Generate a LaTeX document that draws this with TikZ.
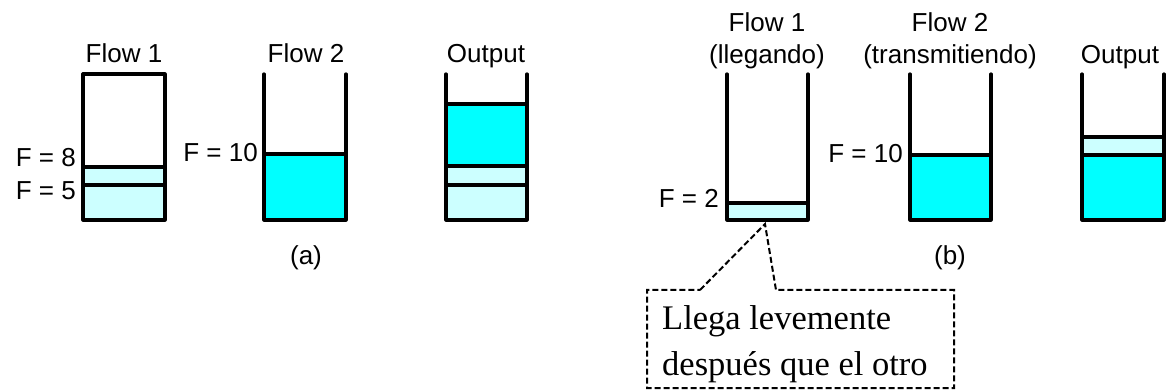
\documentclass[tikz,border=0pt]{standalone}
\usepackage{fontspec}
\setmainfont{Liberation Serif}
\newfontfamily\labelfont{Liberation Sans}
\usepackage{tikz}
\definecolor{fast_fill}{RGB}{0,255,255}
\definecolor{slow_fill}{RGB}{204,255,255}
\tikzstyle{buffer_wall} = [line width=3.2pt, line cap=round, line join=round]
\tikzstyle{level_line} = [line width=3.4pt]
\tikzstyle{label_sans} = [inner sep=0pt, anchor=base, font=\labelfont\fontsize{26}{30}\selectfont]
\tikzstyle{label_level} = [inner sep=0pt, anchor=base east, font=\labelfont\fontsize{26}{30}\selectfont]
\tikzstyle{label_callout} = [inner sep=0pt, anchor=base west, font=\fontsize{34.5}{40}\selectfont]
\tikzstyle{callout_line} = [line width=2pt, dash pattern=on 6pt off 3pt]

\begin{document}
\begin{tikzpicture}[x=1pt,y=-1pt]
\useasboundingbox (0,0) rectangle (1168,390);
\def\ytop{74}
\def\ybot{220}

% (a)
\fill[slow_fill] (83,167) rectangle (165,\ybot);
\draw[level_line] (83,167) -- (165,167);
\draw[level_line] (83,185) -- (165,185);
\draw[buffer_wall] (83,\ytop) rectangle (165,\ybot);

\fill[fast_fill] (264,154) rectangle (346,\ybot);
\draw[level_line] (264,154) -- (346,154);
\draw[buffer_wall] (264,\ytop) -- (264,\ybot) -- (346,\ybot) -- (346,\ytop);

\fill[fast_fill] (446,104) rectangle (527,166);
\fill[slow_fill] (446,166) rectangle (527,\ybot);
\draw[level_line] (446,104) -- (527,104);
\draw[level_line] (446,166) -- (527,166);
\draw[level_line] (446,185) -- (527,185);
\draw[buffer_wall] (446,\ytop) -- (446,\ybot) -- (527,\ybot) -- (527,\ytop);

\node (a_flow1) at (124,63) [label_sans] {Flow 1};
\node (a_flow2) at (306,63) [label_sans] {Flow 2};
\node (a_out) at (486,63) [label_sans] {Output};
\node (a_f8) at (76,167) [label_level] {F = 8};
\node (a_f5) at (76,200) [label_level] {F = 5};
\node (a_f10) at (258,162) [label_level] {F = 10};
\node (a_cap) at (306,265) [label_sans] {(a)};

% (b)
\fill[slow_fill] (727,203) rectangle (808,\ybot);
\draw[level_line] (727,203) -- (808,203);
\draw[buffer_wall] (727,\ytop) -- (727,\ybot) -- (808,\ybot) -- (808,\ytop);

\fill[fast_fill] (910,155) rectangle (991,\ybot);
\draw[level_line] (910,155) -- (991,155);
\draw[buffer_wall] (910,\ytop) -- (910,\ybot) -- (991,\ybot) -- (991,\ytop);

\fill[slow_fill] (1082,137) rectangle (1164,155);
\fill[fast_fill] (1082,155) rectangle (1164,\ybot);
\draw[level_line] (1082,137) -- (1164,137);
\draw[level_line] (1082,155) -- (1164,155);
\draw[buffer_wall] (1082,\ytop) -- (1082,\ybot) -- (1164,\ybot) -- (1164,\ytop);

\node (b_flow1) at (767,32) [label_sans] {Flow 1};
\node (b_state1) at (767,64) [label_sans] {(llegando)};
\node (b_flow2) at (950,32) [label_sans] {Flow 2};
\node (b_state2) at (950,64) [label_sans] {(transmitiendo)};
\node (b_out) at (1120,64) [label_sans] {Output};
\node (b_f2) at (719,208) [label_level] {F = 2};
\node (b_f10) at (903,163) [label_level] {F = 10};
\node (b_cap) at (950,265) [label_sans] {(b)};

\coordinate (tip) at (765,224);
\draw[callout_line] (700,290) -- (tip) -- (776,290) -- (954,290) -- (954,388) -- (647,388) -- (647,290) -- cycle;
\node (note1) at (662,330) [label_callout] {Llega levemente};
\node (note2) at (662,375) [label_callout] {después que el otro};
\end{tikzpicture}
\end{document}
